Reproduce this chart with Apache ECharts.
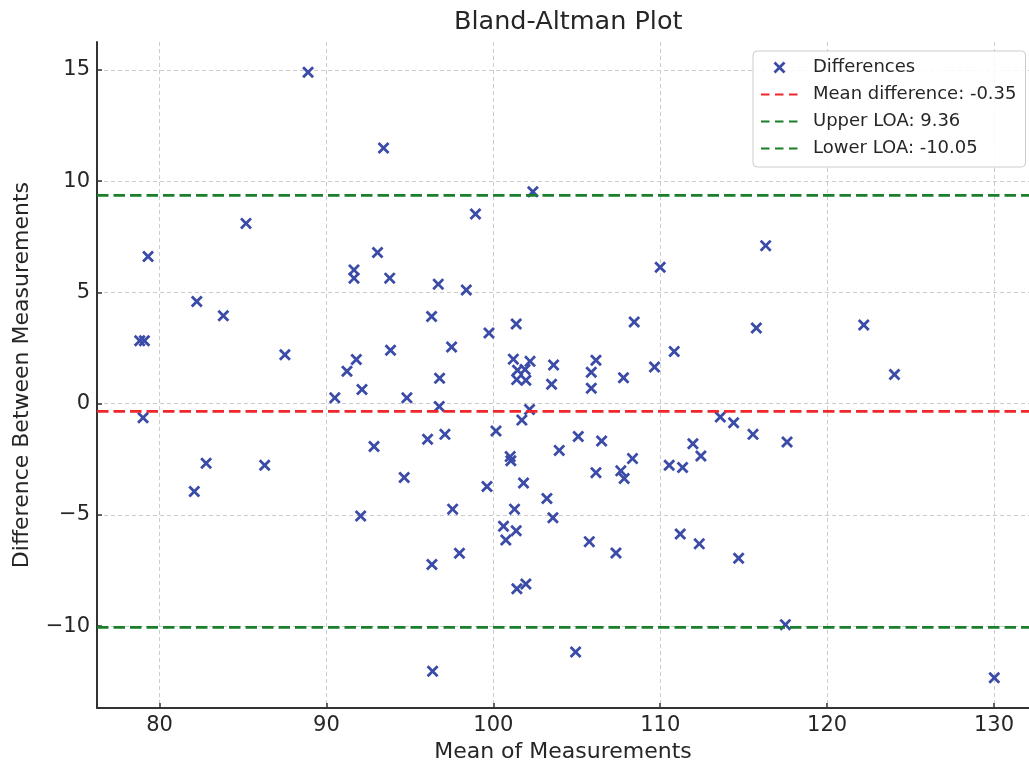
<!DOCTYPE html>
<html>
<head>
<meta charset="utf-8">
<title>Bland-Altman Plot</title>
<script src="https://cdn.jsdelivr.net/npm/echarts@6/dist/echarts.min.js"></script>
<style>
  html, body { margin: 0; padding: 0; background: #fff; overflow: hidden; }
  #chart { width: 1029px; height: 768px; }
</style>
</head>
<body>
<div id="chart"></div>
<script>
// mean of the two measurements
const meanValues = [
  88.90, 93.42, 85.18, 79.31, 93.06, 91.65, 91.65, 93.79, 82.23, 83.82,
  96.30, 78.81, 79.09, 87.51, 93.84, 91.79, 91.23, 92.13, 90.50, 94.82,
  79.01, 82.79, 82.08, 86.30, 92.85, 96.06, 94.66, 92.05, 96.32, 96.36,
  102.37, 98.93, 110.00, 96.70, 98.38, 101.37, 108.44, 99.74, 110.84, 97.50,
  96.78, 101.20, 102.20, 103.61, 106.15, 105.87, 105.87, 103.49, 107.80, 109.66,
  101.45, 101.90, 101.40, 101.95, 96.76, 102.17, 101.71, 100.16, 97.10, 103.95,
  105.09, 106.49, 101.01, 101.05, 108.34, 106.15, 107.64, 107.84, 110.54, 111.34,
  111.96, 112.44, 101.81, 99.62, 103.21, 103.57, 97.56, 101.27, 100.61, 101.37,
  100.75, 105.75, 107.35, 97.97, 101.41, 101.95, 111.20, 104.93, 116.32, 115.76,
  122.20, 124.04, 113.60, 114.40, 115.56, 117.60, 112.34, 114.70, 117.50, 130.02
];
// difference between the two measurements
const diffValues = [
  14.89, 11.49, 8.10, 6.61, 6.79, 6.01, 5.64, 5.64, 4.59, 3.95,
  3.92, 2.83, 2.83, 2.20, 2.40, 1.98, 1.46, 0.64, 0.26, 0.26,
  -0.63, -2.68, -3.95, -2.77, -1.93, -1.60, -3.32, -5.05, -7.23, -12.02,
  9.52, 8.52, 6.13, 5.37, 5.11, 3.58, 3.67, 3.17, 2.34, 2.55,
  1.14, 2.00, 1.90, 1.74, 1.95, 1.41, 0.69, 0.87, 1.16, 1.65,
  1.50, 1.53, 1.08, 1.05, -0.13, -0.26, -0.74, -1.23, -1.38, -2.10,
  -1.48, -1.68, -2.38, -2.57, -2.47, -3.10, -3.02, -3.36, -2.77, -2.87,
  -1.80, -2.35, -3.57, -3.72, -4.26, -5.13, -4.74, -4.74, -5.51, -5.71,
  -6.13, -6.20, -6.71, -6.72, -8.32, -8.10, -5.86, -11.16, 7.10, 3.40,
  3.53, 1.31, -0.60, -0.86, -1.38, -1.72, -6.30, -6.95, -9.93, -12.32
];

const meanDiff = -0.35;
const upperLoa = 9.36;
const lowerLoa = -10.05;

const xTicks = [80, 90, 100, 110, 120, 130];
const yTicks = [-10, -5, 0, 5, 10, 15];
// visible axis window (the right edge is cut by the picture border)
const xRange = [76.25, 132.1];
const yRange = [-13.68, 16.25];

const FONT = 'DejaVu Sans';
// filled "x" marker outline
const xMarker = 'path://M0,1.65L1.65,0L5,3.35L8.35,0L10,1.65L6.65,5L10,8.35L8.35,10L5,6.65L1.65,10L0,8.35L3.35,5Z';

const points = meanValues.map((m, i) => [m, diffValues[i]]);

function hLine(name, y, color) {
  return {
    name,
    type: 'line',
    data: [[xRange[0], y], [xRange[1], y]],
    symbol: 'none',
    silent: true,
    z: 3,
    itemStyle: { color },
    lineStyle: { color, width: 2.8, type: [11.5, 5] }
  };
}

function lineLegend(name) {
  // hide the dot that ECharts puts on line legend icons
  return { name, itemStyle: { opacity: 0 } };
}

function minusFmt(v) {
  return v < 0 ? '\u2212' + Math.abs(v) : String(v);
}

const chart = echarts.init(document.getElementById('chart'));
chart.setOption({
  animation: false,
  textStyle: { fontFamily: FONT },
  title: {
    text: 'Bland-Altman Plot',
    left: 454,
    top: 9,
    padding: 0,
    textStyle: { fontFamily: FONT, fontSize: 25.5, fontWeight: 'normal', color: '#262626' }
  },
  legend: {
    orient: 'vertical',
    left: 753,
    top: 51,
    padding: [6, 9, 8, 7],
    itemGap: 6,
    itemWidth: 37,
    itemHeight: 12,
    backgroundColor: 'rgba(255,255,255,0.85)',
    borderColor: '#cccccc',
    borderWidth: 1,
    borderRadius: 4,
    lineStyle: { type: [8.5, 5.5] },
    textStyle: { fontFamily: FONT, fontSize: 18, lineHeight: 21, color: '#262626', padding: [0, 0, 0, 10] },
    data: [
      'Differences',
      lineLegend('Mean difference: -0.35'),
      lineLegend('Upper LOA: 9.36'),
      lineLegend('Lower LOA: -10.05')
    ]
  },
  grid: { left: 97, top: 42, right: 0, height: 668 },
  xAxis: {
    type: 'value',
    min: xRange[0],
    max: xRange[1],
    name: 'Mean of Measurements',
    nameLocation: 'middle',
    nameGap: 30,
    nameTextStyle: { fontFamily: FONT, fontSize: 22, color: '#262626' },
    axisLine: { show: true, onZero: false, lineStyle: { color: '#333', width: 2 } },
    axisTick: { show: true, inside: true, length: 5, customValues: xTicks, lineStyle: { color: '#333', width: 1.5 } },
    axisLabel: { customValues: xTicks, fontSize: 21, margin: 7, color: '#262626', fontFamily: FONT },
    splitLine: { show: true, lineStyle: { color: '#cccccc', width: 1, type: [4, 3] } }
  },
  yAxis: {
    type: 'value',
    min: yRange[0],
    max: yRange[1],
    name: 'Difference Between Measurements',
    nameLocation: 'middle',
    nameGap: 64,
    nameTextStyle: { fontFamily: FONT, fontSize: 22, color: '#262626' },
    axisLine: { show: true, onZero: false, lineStyle: { color: '#333', width: 2 } },
    axisTick: { show: true, inside: true, length: 5, customValues: yTicks, lineStyle: { color: '#333', width: 1.5 } },
    axisLabel: { customValues: yTicks, fontSize: 21, margin: 7, color: '#262626', fontFamily: FONT, formatter: minusFmt },
    splitLine: { show: true, lineStyle: { color: '#cccccc', width: 1, type: [4, 3] } }
  },
  series: [
    {
      name: 'Differences',
      type: 'scatter',
      data: points,
      symbol: xMarker,
      symbolSize: 12,
      z: 2,
      itemStyle: { color: '#3b4ba8', opacity: 1 }
    },
    hLine('Mean difference: -0.35', meanDiff, '#f0262a'),
    hLine('Upper LOA: 9.36', upperLoa, '#1a7f2a'),
    hLine('Lower LOA: -10.05', lowerLoa, '#1a7f2a')
  ]
});
window.addEventListener('resize', () => chart.resize());
</script>
</body>
</html>
